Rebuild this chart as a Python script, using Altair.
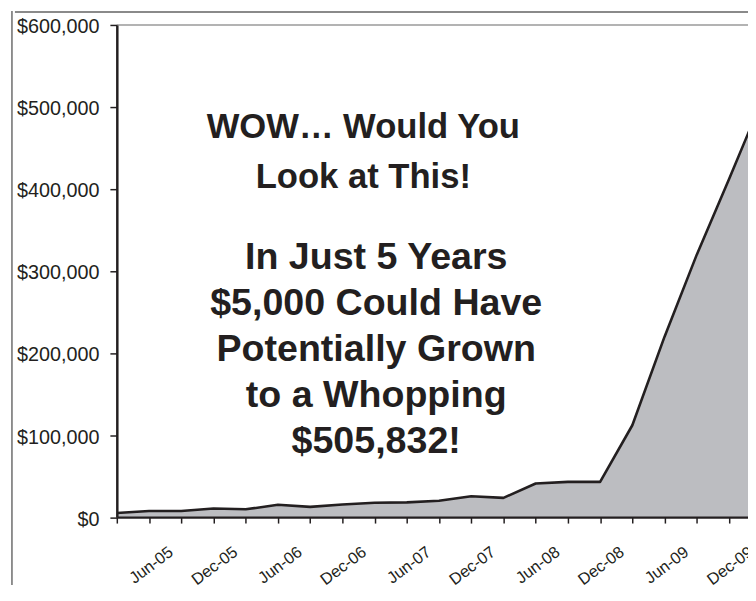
import json
import altair as alt
import pandas as pd

# ---- data (quarterly, Mar-05 .. Mar-10) ----
quarters = ["Mar-05", "Jun-05", "Sep-05", "Dec-05", "Mar-06", "Jun-06", "Sep-06",
            "Dec-06", "Mar-07", "Jun-07", "Sep-07", "Dec-07", "Mar-08", "Jun-08",
            "Sep-08", "Dec-08", "Mar-09", "Jun-09", "Sep-09", "Dec-09", "Mar-10"]
values = [5000, 7500, 7500, 10500, 9500, 15000, 12500, 15500, 17500, 18000,
          20000, 25500, 23500, 41000, 43000, 43000, 112000, 220000, 320000,
          412000, 505832]
y_ticks = [0, 100000, 200000, 300000, 400000, 500000, 600000]

headline = ["WOW\u2026 Would You", "Look at This!"]
message = ["In Just 5 Years", "$5,000 Could Have", "Potentially Grown",
           "to a Whopping", "$505,832!"]

# ---- layout / style constants ----
INK = "#231f20"
FILL = "#bcbdc1"
W, H = 638, 497.5
PAD = {"left": 110, "top": 14, "right": 0, "bottom": 68.5}
X_MAX = 19.59            # plot is cut off on the right, as in the picture
headline_pos = (7.65, [461900, 401400])
message_pos = (8.05, [302950, 246630, 190310, 134110, 77790])

df = pd.DataFrame({"q": list(range(len(quarters))), "value": values,
                   "label": quarters})

shown = [q if q.startswith(("Jun", "Dec")) else "" for q in quarters]
label_expr = json.dumps(shown) + "[datum.value]"

xscale = alt.Scale(domain=[0, X_MAX], nice=False, zero=False)
yscale = alt.Scale(domain=[0, 600000], nice=False)

xaxis = alt.Axis(values=list(range(20)), labelExpr=label_expr, title=None,
                 grid=False, domainColor=INK, domainWidth=2.5, tickColor=INK,
                 tickWidth=1.5, tickSize=6, labelAngle=-37, labelAlign="right",
                 labelBaseline="middle", labelOffset=22, labelPadding=27,
                 labelFont="Liberation Sans", labelFontSize=16.5,
                 labelColor=INK, labelOverlap=False, labelFlush=False,
                 labelBound=False, zindex=1)
yaxis = alt.Axis(values=y_ticks, format="$,.0f", title=None, grid=False,
                 domainColor=INK, domainWidth=2.5, tickColor=INK, tickWidth=1.5,
                 tickSize=7, labelPadding=11, labelFont="Liberation Sans",
                 labelFontSize=20, labelColor=INK, labelOffset=2,
                 labelOverlap=False, zindex=1)

X = alt.X("q:Q", scale=xscale, axis=xaxis)
Y = alt.Y("value:Q", scale=yscale, axis=yaxis)

area = alt.Chart(df).mark_area(
    color=FILL, opacity=1, fillOpacity=1, clip=True,
    line={"color": INK, "strokeWidth": 2.6, "strokeJoin": "round"},
).encode(x=X, y=Y)

top_border = alt.Chart(pd.DataFrame({"a": [0]})).mark_rule(
    color="#9a9a9a", strokeWidth=1.6
).encode(y=alt.datum(600000, scale=yscale, axis=yaxis))

frame_left = alt.Chart(pd.DataFrame({"a": [0]})).mark_rule(
    color="#555555", strokeWidth=1.3
).encode(x=alt.value(-106), y=alt.value(-14), y2=alt.value(H + PAD["bottom"]))

frame_top = alt.Chart(pd.DataFrame({"a": [0]})).mark_rule(
    color="#8a8a8a", strokeWidth=2
).encode(x=alt.value(-103), x2=alt.value(W), y=alt.value(-13))

hl_df = pd.DataFrame({"q": [headline_pos[0]] * len(headline),
                      "value": headline_pos[1], "txt": headline})
msg_df = pd.DataFrame({"q": [message_pos[0]] * len(message),
                       "value": message_pos[1], "txt": message})

hl_text = alt.Chart(hl_df).mark_text(
    font="Liberation Sans", fontWeight="bold", fontSize=35, color=INK,
    align="center", baseline="alphabetic",
).encode(x=X, y=Y, text="txt:N")

msg_text = alt.Chart(msg_df).mark_text(
    font="Liberation Sans", fontWeight="bold", fontSize=38, color=INK,
    align="center", baseline="alphabetic",
).encode(x=X, y=Y, text="txt:N")

chart = alt.layer(area, top_border, frame_left, frame_top, hl_text, msg_text).properties(
    width=W, height=H,
    autosize=alt.AutoSizeParams(type="none"),
    padding=PAD,
    background="white",
).configure_view(strokeWidth=0)

chart.save("out.html", embed_options={"renderer": "svg", "actions": False})
